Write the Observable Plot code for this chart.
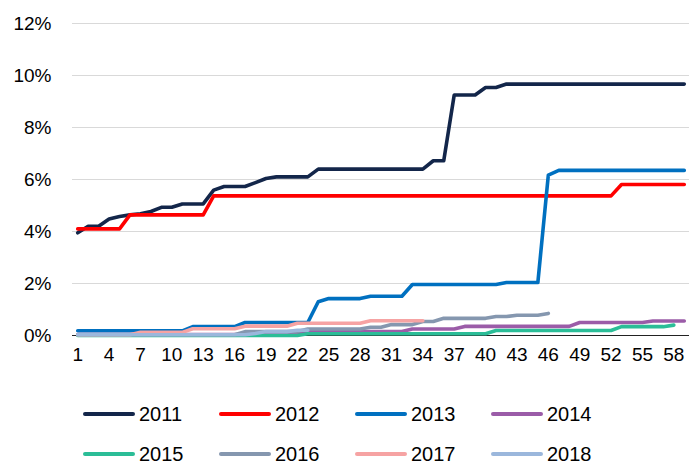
<!DOCTYPE html>
<html><head><meta charset="utf-8">
<script src="https://cdn.jsdelivr.net/npm/d3@7"></script>
<script src="https://cdn.jsdelivr.net/npm/@observablehq/plot@0.6"></script>
<style>
body{margin:0;background:#fff;}
#chart{width:689px;height:464px;position:relative;overflow:hidden;background:#fff}
.legend{display:grid;grid-template-columns:repeat(4,136px);row-gap:10px;padding-left:83px;margin-top:27px}
.item{display:flex;align-items:center;height:30px;font-size:20px;font-family:"Liberation Sans",Arial,sans-serif;color:#000}
.sw{width:52px;height:4.5px;border-radius:2.25px;margin-right:4px;flex:none}
</style></head>
<body><div id="chart"></div>
<script>
const weeks = [1,2,3,4,5,6,7,8,9,10,11,12,13,14,15,16,17,18,19,20,21,22,23,24,25,26,27,28,29,30,31,32,33,34,35,36,37,38,39,40,41,42,43,44,45,46,47,48,49,50,51,52,53,54,55,56,57,58,59];
const xTicks = [1,4,7,10,13,16,19,22,25,28,31,34,37,40,43,46,49,52,55,58];
const yTicks = [0,2,4,6,8,10,12];
const seriesNames = ["2011","2012","2013","2014","2015","2016","2017","2018"];
const seriesColors = ["#13264a","#ff0000","#0070c0","#9b5ca8","#2bbd97","#8597af","#f6a3a3","#9bb7dc"];

const s2011 = [3.95,4.2,4.2,4.48,4.58,4.64,4.68,4.77,4.93,4.93, 5.06,5.06,5.06,5.59,5.73,5.73,5.73,5.88,6.04,6.1, 6.1,6.1,6.1,6.4,6.4,6.4,6.4,6.4,6.4,6.4, 6.4,6.4,6.4,6.4,6.72,6.72,9.25,9.25,9.25,9.54, 9.54,9.67,9.67,9.67,9.67,9.67,9.67,9.67,9.67,9.67, 9.67,9.67,9.67,9.67,9.67,9.67,9.67,9.67,9.67];
const s2012 = [4.1,4.1,4.1,4.1,4.1,4.64,4.64,4.64,4.64,4.64, 4.64,4.64,4.64,5.37,5.37,5.37,5.37,5.37,5.37,5.37, 5.37,5.37,5.37,5.37,5.37,5.37,5.37,5.37,5.37,5.37, 5.37,5.37,5.37,5.37,5.37,5.37,5.37,5.37,5.37,5.37, 5.37,5.37,5.37,5.37,5.37,5.37,5.37,5.37,5.37,5.37, 5.37,5.37,5.81,5.81,5.81,5.81,5.81,5.81,5.81];
const s2013 = [0.18,0.18,0.18,0.18,0.18,0.18,0.18,0.18,0.18,0.18, 0.18,0.34,0.34,0.34,0.34,0.34,0.5,0.5,0.5,0.5, 0.5,0.5,0.5,1.3,1.42,1.42,1.42,1.42,1.51,1.51, 1.51,1.51,1.96,1.96,1.96,1.96,1.96,1.96,1.96,1.96, 1.96,2.04,2.04,2.04,2.04,6.17,6.35,6.35,6.35,6.35, 6.35,6.35,6.35,6.35,6.35,6.35,6.35,6.35,6.35];
const s2014 = [0.04,0.04,0.04,0.04,0.04,0.04,0.04,0.04,0.04,0.04, 0.04,0.04,0.04,0.04,0.04,0.04,0.04,0.04,0.04,0.04, 0.04,0.04,0.15,0.15,0.15,0.15,0.15,0.15,0.15,0.15, 0.15,0.15,0.25,0.25,0.25,0.25,0.25,0.35,0.35,0.35, 0.35,0.35,0.35,0.35,0.35,0.35,0.35,0.35,0.5,0.5, 0.5,0.5,0.5,0.5,0.5,0.56,0.56,0.56,0.56];
const s2015 = [0,0,0,0,0,0,0,0,0,0, 0,0,0,0,0,0,0,0,0,0, 0,0,0.07,0.07,0.07,0.07,0.07,0.07,0.07,0.07, 0.07,0.07,0.07,0.07,0.07,0.07,0.07,0.07,0.07,0.07, 0.19,0.19,0.19,0.19,0.19,0.19,0.19,0.19,0.19,0.19, 0.19,0.19,0.34,0.34,0.34,0.34,0.34,0.4,null];
const s2016 = [0.03,0.03,0.03,0.03,0.03,0.03,0.03,0.03,0.03,0.03, 0.03,0.03,0.03,0.03,0.03,0.03,0.15,0.15,0.15,0.15, 0.15,0.15,0.25,0.25,0.25,0.25,0.25,0.25,0.32,0.32, 0.42,0.42,0.42,0.54,0.54,0.66,0.66,0.66,0.66,0.66, 0.73,0.73,0.78,0.78,0.78,0.85,null,null,null,null, null,null,null,null,null,null,null,null,null];
const s2017 = [0.03,0.03,0.03,0.03,0.03,0.03,0.12,0.12,0.12,0.12, 0.12,0.26,0.26,0.26,0.26,0.26,0.36,0.36,0.36,0.36, 0.36,0.47,0.47,0.47,0.47,0.47,0.47,0.47,0.57,0.57, 0.57,0.57,0.57,0.57,null,null,null,null,null,null, null,null,null,null,null,null,null,null,null,null, null,null,null,null,null,null,null,null,null];
const s2018 = [0.03,0.03,0.03,0.03,0.03,0.03,0.03,0.03,0.03,0.03, 0.03,0.03,0.03,0.03,0.03,0.03,0.03,0.08,0.15,0.15, 0.15,0.2,0.2,null,null,null,null,null,null,null, null,null,null,null,null,null,null,null,null,null, null,null,null,null,null,null,null,null,null,null, null,null,null,null,null,null,null,null,null];

const allSeries = [s2011,s2012,s2013,s2014,s2015,s2016,s2017,s2018];

const lineMarks = allSeries.map((vals, k) => {
  const rows = [];
  weeks.forEach((w, i) => { if (vals[i] != null) rows.push({week: w, value: vals[i], series: seriesNames[k]}); });
  return Plot.line(rows, {x: "week", y: "value", stroke: seriesColors[k], strokeWidth: 3.6, strokeLinejoin: "round", strokeLinecap: "round", curve: "linear"});
});

const plot = Plot.plot({
  width: 689, height: 372,
  marginTop: 23, marginBottom: 37, marginLeft: 72, marginRight: 0,
  style: {fontFamily: "'Liberation Sans', Arial, sans-serif", fontSize: "19px", color: "#000", background: "#fff"},
  x: {domain: [0.5, 59.5], label: null},
  y: {domain: [0, 12], label: null},
  marks: [
    Plot.ruleY(yTicks.filter(d => d > 0), {stroke: "#d9d9d9", strokeWidth: 1.2}),
    Plot.ruleY([0], {stroke: "#222", strokeWidth: 1.2}),
    ...lineMarks,
    Plot.axisX({ticks: xTicks, tickSize: 0, tickPadding: 12, tickFormat: d => String(d), fontSize: 19, fill: "#000"}),
    Plot.axisY({ticks: yTicks, tickSize: 0, tickPadding: 21, tickFormat: d => d + "%", fontSize: 19, fill: "#000"})
  ]
});

const chart = document.getElementById("chart");
chart.appendChild(plot);
const legend = document.createElement("div");
legend.className = "legend";
seriesNames.forEach((n, k) => {
  const it = document.createElement("div");
  it.className = "item";
  const sw = document.createElement("span");
  sw.className = "sw";
  sw.style.background = seriesColors[k];
  const t = document.createElement("span");
  t.textContent = n;
  it.appendChild(sw); it.appendChild(t);
  legend.appendChild(it);
});
chart.appendChild(legend);
</script></body></html>
